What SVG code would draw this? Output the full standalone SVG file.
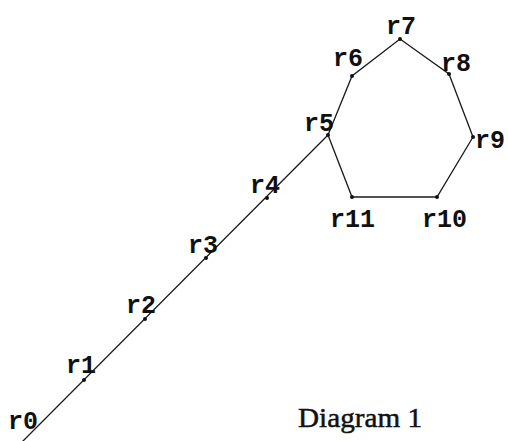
<svg xmlns="http://www.w3.org/2000/svg" width="508" height="441" viewBox="0 0 508 441">
<style>
.e{stroke:#1a1a1a;stroke-width:1.3;fill:none}
.d{fill:#111}
.l{font-family:"Liberation Mono",monospace;font-weight:bold;font-size:25px;fill:#111}
.t{font-family:"Liberation Serif",serif;font-size:28px;fill:#111;stroke:#111;stroke-width:0.5}
</style>
<rect width="508" height="441" fill="#fff"/>
<g id="connectors">
<line class="e" x1="22" y1="442" x2="328" y2="135"/>
<polyline class="e" points="328,135 352,76 400,39 449,74 473,137 437,197 352,197 328,135"/>
</g>
<g id="r0"><text class="l" x="8" y="429">r0</text></g>
<g id="r1"><circle class="d" cx="84" cy="380" r="2"/><text class="l" x="66" y="373">r1</text></g>
<g id="r2"><circle class="d" cx="145" cy="319" r="2"/><text class="l" x="126" y="313">r2</text></g>
<g id="r3"><circle class="d" cx="206" cy="258" r="2"/><text class="l" x="188" y="253">r3</text></g>
<g id="r4"><circle class="d" cx="267" cy="198" r="2"/><text class="l" x="250" y="193">r4</text></g>
<g id="r5"><circle class="d" cx="328" cy="135" r="2"/><text class="l" x="304" y="131">r5</text></g>
<g id="r6"><circle class="d" cx="352" cy="76" r="2"/><text class="l" x="333" y="66">r6</text></g>
<g id="r7"><circle class="d" cx="400" cy="39" r="2"/><text class="l" x="386" y="34">r7</text></g>
<g id="r8"><circle class="d" cx="449" cy="74" r="2"/><text class="l" x="441" y="71">r8</text></g>
<g id="r9"><circle class="d" cx="473" cy="137" r="2"/><text class="l" x="475" y="148">r9</text></g>
<g id="r10"><circle class="d" cx="437" cy="197" r="2"/><text class="l" x="422" y="227">r10</text></g>
<g id="r11"><circle class="d" cx="352" cy="197" r="2"/><text class="l" x="330" y="227">r11</text></g>
<text class="t" x="298" y="427" textLength="124" lengthAdjust="spacingAndGlyphs">Diagram 1</text>
</svg>
